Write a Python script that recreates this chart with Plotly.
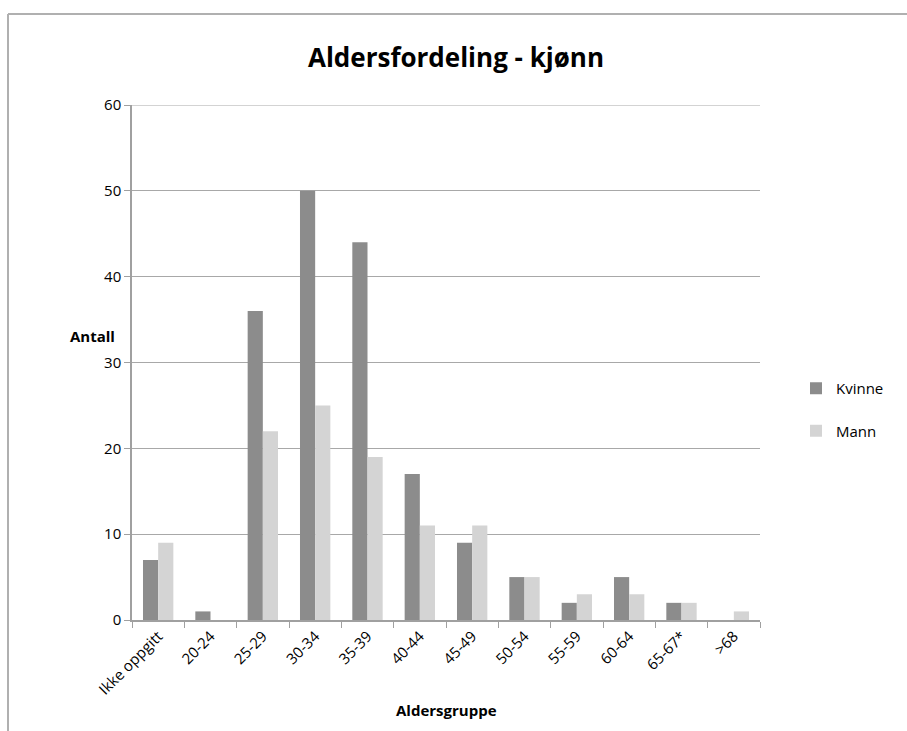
import plotly.graph_objects as go

# Age groups and counts per gender
age_groups = ["Ikke oppgitt", "20-24", "25-29", "30-34", "35-39", "40-44",
              "45-49", "50-54", "55-59", "60-64", "65-67*", ">68"]
kvinne = [7, 1, 36, 50, 44, 17, 9, 5, 2, 5, 2, 0]
mann = [9, 0, 22, 25, 19, 11, 11, 5, 3, 3, 2, 1]
y_ticks = [0, 10, 20, 30, 40, 50, 60]

W, H = 907, 731
L, R, T, B = 132, 147, 105, 111
FONT = "Open Sans, Liberation Sans, sans-serif"
GRID = "#a8a8a8"

fig = go.Figure()
fig.add_trace(go.Bar(name="Kvinne", x=age_groups, y=kvinne, legendgroup="k",
                     marker=dict(color="#8c8c8c", line=dict(width=0))))
fig.add_trace(go.Bar(name="Mann", x=age_groups, y=mann, legendgroup="m",
                     marker=dict(color="#d4d4d4", line=dict(width=0))))

pw, ph = W - L - R, H - T - B


def px_x(p):
    return (p - L) / pw


def px_y(p):
    return (H - B - p) / ph


# Outer frame: top and left edges
frame = dict(type="line", xref="paper", yref="paper",
             line=dict(color="#b0b0b0", width=2), layer="above")
fig.add_shape(**frame, x0=px_x(8), x1=px_x(907), y0=px_y(14), y1=px_y(14))
fig.add_shape(**frame, x0=px_x(8), x1=px_x(8), y0=px_y(14), y1=px_y(731))

# Gridline at the top of the value range
fig.add_shape(type="line", xref="paper", yref="y", x0=0, x1=1,
              y0=y_ticks[-1], y1=y_ticks[-1], layer="below",
              line=dict(color=GRID, width=1.2))

fig.add_annotation(text="<b>Antall</b>", xref="paper", yref="paper",
                   x=px_x(117), y=px_y(336), xanchor="right", yanchor="middle",
                   showarrow=False, font=dict(family=FONT, size=15, color="#000"))
fig.add_annotation(text="<b>Aldersgruppe</b>", xref="paper", yref="paper",
                   x=px_x(446), y=px_y(710), xanchor="center", yanchor="middle",
                   showarrow=False, font=dict(family=FONT, size=15, color="#000"))

fig.update_layout(
    width=W, height=H,
    margin=dict(l=L, r=R, t=T, b=B, autoexpand=False),
    paper_bgcolor="white", plot_bgcolor="white",
    barmode="group", bargap=0.42, bargroupgap=0,
    title=dict(text="<b>Aldersfordeling - kjønn</b>", xref="paper",
               x=px_x(456), xanchor="center",
               y=1 - 58 / H, yanchor="middle",
               font=dict(family=FONT, size=26, color="#000")),
    font=dict(family=FONT, size=15, color="#000"),
    legend=dict(x=px_x(796), y=px_y(372), xanchor="left", yanchor="top",
                font=dict(family=FONT, size=15, color="#000"),
                tracegroupgap=20, itemwidth=30, bgcolor="rgba(0,0,0,0)"),
    showlegend=True,
)
fig.update_xaxes(
    type="category", tickangle=-45, tickson="boundaries", automargin=False,
    ticks="outside", ticklen=6, tickcolor="#a0a0a0",
    showline=True, linecolor="#a0a0a0", linewidth=1.5,
    showgrid=False,
    tickfont=dict(family=FONT, size=15, color="#000"),
)
fig.update_yaxes(
    range=[0, 60], tickvals=y_ticks, automargin=False,
    ticks="outside", ticklen=6, tickcolor="#a0a0a0",
    showline=True, linecolor="#a0a0a0", linewidth=1.5,
    showgrid=True, gridcolor=GRID, gridwidth=1.2,
    zeroline=False,
    tickfont=dict(family=FONT, size=15, color="#000"),
)

fig.write_html("out.html")
